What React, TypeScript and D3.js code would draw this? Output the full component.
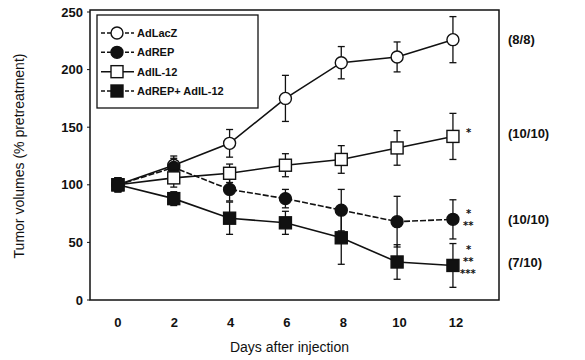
import React, { useRef, useEffect } from "react";
import * as d3 from "d3";

const days = [0, 2, 4, 6, 8, 10, 12];
const seriesNames = ["AdLacZ", "AdREP", "AdIL-12", "AdREP+ AdIL-12"];
const lacZ = [100, 117, 136, 175, 206, 211, 226];
const lacZErr = [6, 8, 12, 20, 14, 13, 20];
const rep = [100, 115, 96, 88, 78, 68, 70];
const repErr = [6, 8, 10, 8, 18, 22, 17];
const il12 = [100, 106, 110, 117, 122, 132, 142];
const il12Err = [6, 8, 8, 10, 12, 15, 20];
const combo = [100, 88, 71, 67, 54, 33, 30];
const comboErr = [6, 6, 14, 10, 23, 15, 19];
const yTicks = [0, 50, 100, 150, 200, 250];
const ratios = ["(8/8)", "(10/10)", "(10/10)", "(7/10)"];
const ratioValues = [226, 145, 70, 33];

const App: React.FC = () => {
  const ref = useRef<SVGSVGElement | null>(null);

  useEffect(() => {
    const width = 585;
    const height = 360;
    const svg = d3
      .select(ref.current)
      .attr("width", width)
      .attr("height", height)
      .style("position", "absolute")
      .style("left", "0px")
      .style("top", "0px")
      .style("font-family", "'Liberation Sans', Arial, sans-serif");
    svg.selectAll("*").remove();

    const left = 90;
    const right = 499;
    const top = 12;
    const bottom = 300;

    const x = d3.scaleLinear().domain([-1, 13.65]).range([left, right]);
    const y = d3.scaleLinear().domain([0, 250]).range([bottom, top]);

    // frame
    svg
      .append("rect")
      .attr("x", left)
      .attr("y", y(250) - 2)
      .attr("width", right - left)
      .attr("height", bottom - y(250) + 2)
      .attr("fill", "none")
      .attr("stroke", "#111")
      .attr("stroke-width", 1.5);

    // y ticks
    const yg = svg.append("g");
    yTicks.forEach((t) => {
      yg.append("line")
        .attr("x1", left - 3)
        .attr("x2", left)
        .attr("y1", y(t))
        .attr("y2", y(t))
        .attr("stroke", "#111");
      yg.append("text")
        .attr("x", left - 7)
        .attr("y", y(t))
        .attr("dy", "0.35em")
        .attr("text-anchor", "end")
        .attr("font-size", 13)
        .attr("font-weight", "bold")
        .attr("fill", "#111")
        .text(t);
    });

    // x tick labels
    days.forEach((d) => {
      svg
        .append("text")
        .attr("x", x(d) + d / 4)
        .attr("y", 322)
        .attr("dy", "0.35em")
        .attr("text-anchor", "middle")
        .attr("font-size", 13)
        .attr("font-weight", "bold")
        .attr("fill", "#111")
        .text(d);
    });

    svg
      .append("text")
      .attr("x", (left + right) / 2 - 5)
      .attr("y", 352)
      .attr("text-anchor", "middle")
      .attr("font-size", 14)
      .attr("fill", "#111")
      .text("Days after injection");

    svg
      .append("text")
      .attr("transform", `translate(24,${(top + bottom) / 2}) rotate(-90)`)
      .attr("text-anchor", "middle")
      .attr("font-size", 14)
      .attr("fill", "#111")
      .text("Tumor volumes (% pretreatment)");

    const series = [
      { vals: lacZ, err: lacZErr, shape: "circle", fill: "#fff", dash: null },
      { vals: rep, err: repErr, shape: "circle", fill: "#111", dash: "6,2" },
      { vals: il12, err: il12Err, shape: "square", fill: "#fff", dash: null },
      { vals: combo, err: comboErr, shape: "square", fill: "#111", dash: null },
    ];

    const line = d3
      .line<number>()
      .x((_, i) => x(days[i]))
      .y((v) => y(v));

    const drawMarker = (
      g: any,
      cx: number,
      cy: number,
      shape: string,
      fill: string
    ) => {
      if (shape === "circle") {
        g.append("circle")
          .attr("cx", cx)
          .attr("cy", cy)
          .attr("r", 6)
          .attr("fill", fill)
          .attr("stroke", "#111")
          .attr("stroke-width", 1.4);
      } else {
        g.append("rect")
          .attr("x", cx - 6)
          .attr("y", cy - 6)
          .attr("width", 12)
          .attr("height", 12)
          .attr("fill", fill)
          .attr("stroke", "#111")
          .attr("stroke-width", 1.4);
      }
    };

    series.forEach((s) => {
      const g = svg.append("g");
      g.append("path")
        .attr("d", line(s.vals))
        .attr("fill", "none")
        .attr("stroke", "#111")
        .attr("stroke-width", 1.6)
        .attr("stroke-dasharray", s.dash);
      s.vals.forEach((v, i) => {
        const cx = x(days[i]);
        const e = s.err[i];
        g.append("line")
          .attr("x1", cx)
          .attr("x2", cx)
          .attr("y1", y(v + e))
          .attr("y2", y(v - e))
          .attr("stroke", "#111")
          .attr("stroke-width", 1.3);
        [v + e, v - e].forEach((c) => {
          g.append("line")
            .attr("x1", cx - 3.5)
            .attr("x2", cx + 3.5)
            .attr("y1", y(c))
            .attr("y2", y(c))
            .attr("stroke", "#111")
            .attr("stroke-width", 1.3);
        });
      });
      s.vals.forEach((v, i) => drawMarker(g, x(days[i]), y(v), s.shape, s.fill));
    });

    // significance stars (glyph sits high, so dy pushes it toward the given centre)
    const starG = svg
      .append("g")
      .attr("font-family", "'DejaVu Sans', sans-serif")
      .attr("font-size", 10)
      .attr("font-weight", "bold")
      .attr("fill", "#111");
    const x12 = x(12);
    const star = (dx: number, cy: number, s: string) =>
      starG
        .append("text")
        .attr("x", x12 + dx)
        .attr("y", cy)
        .attr("dy", "0.6em")
        .text(s);
    star(13, y(il12[6]) - 6, "*");
    star(13, y(rep[6]) - 8, "*");
    star(10, y(rep[6]) + 4, "**");
    star(13, y(combo[6]) - 18, "*");
    star(10, y(combo[6]) - 6, "**");
    star(7, y(combo[6]) + 6, "***");

    // ratios on the right
    ratios.forEach((r, i) => {
      svg
        .append("text")
        .attr("x", 508)
        .attr("y", y(ratioValues[i]))
        .attr("dy", "0.35em")
        .attr("font-size", 13)
        .attr("font-weight", "bold")
        .attr("fill", "#111")
        .text(r);
    });

    // legend
    const lg = svg.append("g");
    lg.append("rect")
      .attr("x", 97)
      .attr("y", 15)
      .attr("width", 161)
      .attr("height", 93)
      .attr("fill", "#fff")
      .attr("stroke", "#111")
      .attr("stroke-width", 1.3);
    const legendY = d3.scalePoint<string>().domain(seriesNames).range([33, 91]);
    seriesNames.forEach((name, i) => {
      const s = series[i];
      const ly = legendY(name)!;
      lg.append("line")
        .attr("x1", 101)
        .attr("x2", 134)
        .attr("y1", ly)
        .attr("y2", ly)
        .attr("stroke", "#111")
        .attr("stroke-width", 1.5)
        .attr("stroke-dasharray", i === 2 ? null : "4,2");
      drawMarker(lg, 117, ly, s.shape, s.fill);
      lg.append("text")
        .attr("x", 137)
        .attr("y", ly)
        .attr("dy", "0.35em")
        .attr("font-size", 11)
        .attr("font-weight", "bold")
        .attr("fill", "#111")
        .text(name);
    });
  }, []);

  return <svg ref={ref}></svg>;
};

export default App;
